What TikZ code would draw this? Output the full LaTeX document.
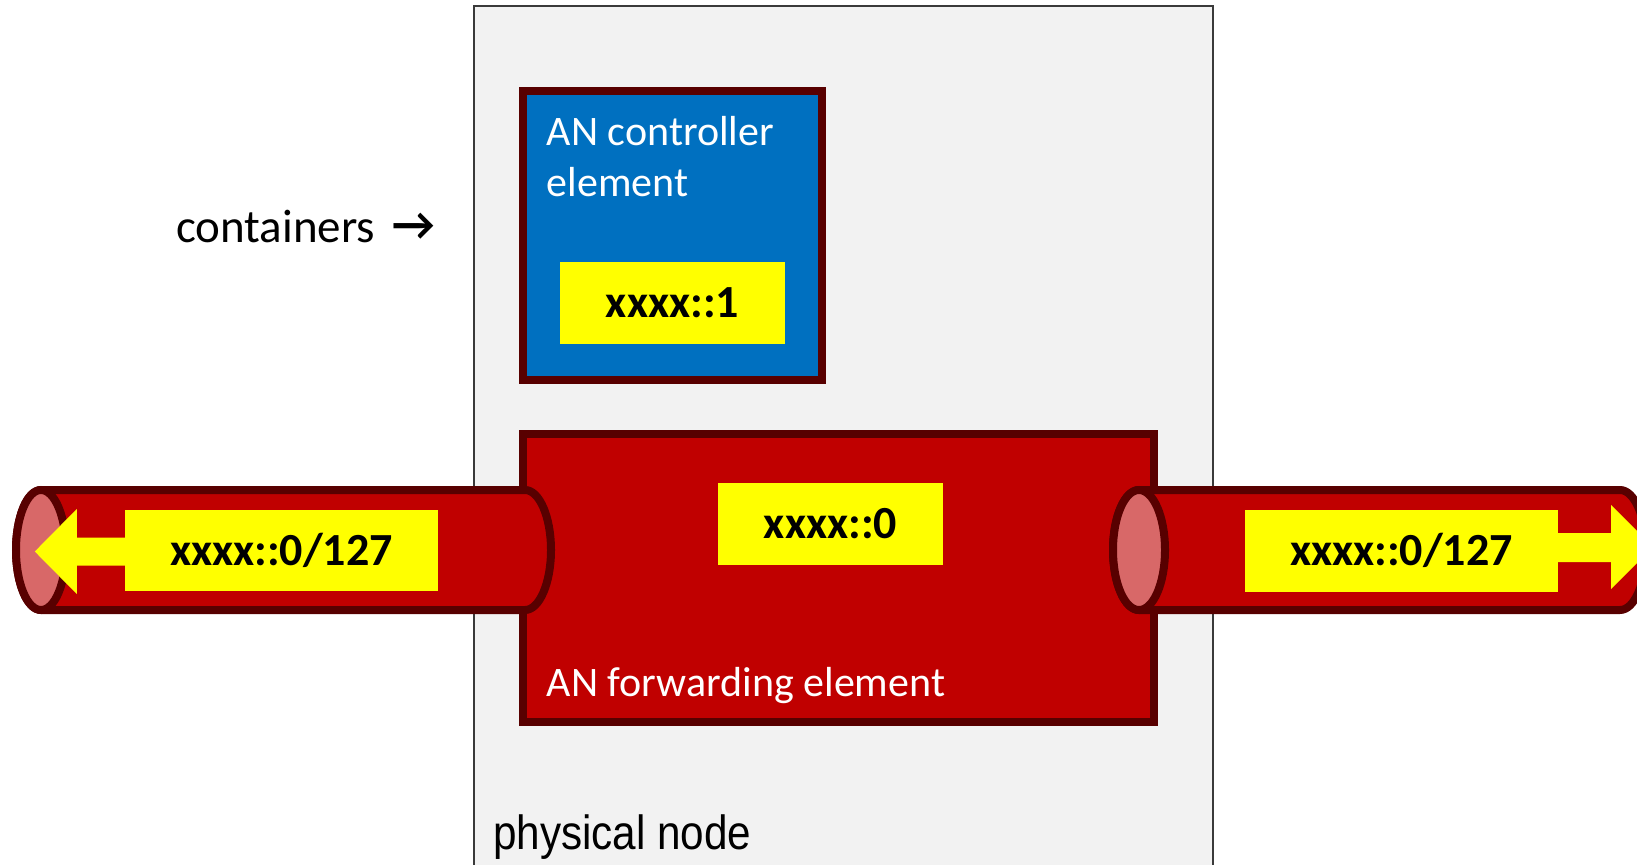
\documentclass[tikz,border=0pt]{standalone}
\usepackage{fontspec}
\usepackage{graphicx}
\setmainfont{Carlito}
\newfontfamily\arialf{Liberation Sans}

\definecolor{edgered}{HTML}{580000}
\definecolor{fwdred}{HTML}{C00000}
\definecolor{ctrlblue}{HTML}{0070C0}
\definecolor{facepink}{HTML}{D86868}
\definecolor{addryellow}{HTML}{FFFF00}
\definecolor{nodegray}{HTML}{F2F2F2}
\definecolor{nodeedge}{HTML}{3A3A3A}

\tikzset{
  elembox/.style={rectangle, draw=edgered, line width=8pt, inner sep=0pt},
  addrbox/.style={rectangle, fill=addryellow, inner sep=0pt,
    font=\bfseries\fontsize{46}{50}\selectfont, text height=29pt, text depth=0pt},
  whitelabel/.style={text=white, inner sep=0pt, anchor=base west,
    font=\fontsize{42}{51}\selectfont},
  pipebody/.style={fill=fwdred, draw=edgered, line width=8pt, line join=round},
  pipeface/.style={fill=facepink, draw=edgered, line width=8pt},
}

\begin{document}
\begin{tikzpicture}[x=1pt, y=-1pt]
  \useasboundingbox (0,0) rectangle (1637,864);
  \clip (0,0) rectangle (1637,864);

  % physical node (runs past the lower edge)
  \node[rectangle, fill=nodegray, draw=nodeedge, line width=2pt, inner sep=0pt,
        minimum width=739pt, minimum height=894pt] (phys) at (843.5,453) {};

  % containers
  \node[elembox, fill=ctrlblue, minimum width=299pt, minimum height=289pt]
    (ctrl) at (672.5,235.5) {};
  \node[elembox, fill=fwdred, minimum width=631pt, minimum height=288pt]
    (fwd) at (838.5,578) {};

  % pipe ends
  \coordinate (lpL) at (41,550);
  \coordinate (lpR) at (525,550);
  \coordinate (rpL) at (1139,550);
  \coordinate (rpR) at (1620,550);

  % left pipe
  \draw[pipebody] (41,490) -- (525,490)
    arc[start angle=-90, end angle=90, x radius=26, y radius=60]
    -- (41,610)
    arc[start angle=90, end angle=270, x radius=25, y radius=60] -- cycle;
  \draw[pipeface] (lpL) ellipse [x radius=25, y radius=60];

  % right pipe
  \draw[pipebody] (1139,490) -- (1620,490)
    arc[start angle=-90, end angle=90, x radius=26, y radius=60]
    -- (1139,610)
    arc[start angle=90, end angle=270, x radius=26, y radius=60] -- cycle;
  \draw[pipeface] (rpL) ellipse [x radius=26, y radius=60];

  % addresses
  \node[addrbox, minimum width=225pt, minimum height=82pt] (addr1) at (672.5,303) {xxxx::1};
  \node[addrbox, minimum width=225pt, minimum height=82pt] (addr0) at (830.5,524) {xxxx::0};
  \node[addrbox, minimum width=313pt, minimum height=81pt] (laddr) at (281.5,550.5) {xxxx::0/127};
  \node[addrbox, minimum width=313pt, minimum height=82pt] (raddr) at (1401.5,551) {xxxx::0/127};

  % direction arrows inside the pipes
  \fill[addryellow] (laddr.west) ++(0,-13) -- ++(-48,0) -- ++(0,-28.5)
    -- ++(-42,42.5) -- ++(42,42.5) -- ++(0,-28.5) -- ++(48,0) -- cycle;
  \fill[addryellow] (raddr.east) ++(0,-18) -- ++(53,0) -- ++(0,-28)
    -- ++(42,42) -- ++(-42,42) -- ++(0,-27) -- ++(-53,0) -- cycle;

  % labels
  \node[whitelabel, align=left] (ctrltxt) at (546.7,196.7) {AN controller\\element};
  \node[whitelabel] (fwdtxt) at (546.7,696.7) {AN forwarding element};
  \node[inner sep=0pt, anchor=base west, font=\fontsize{47}{50}\selectfont]
    (cont) at (176,242) {containers\hspace{17pt}\raisebox{2pt}{\textbf{→}}};
  \node[inner sep=0pt, anchor=base west, font=\arialf\fontsize{48}{52}\selectfont]
    (physlbl) at (493,849) {\scalebox{0.88}[1]{physical node}};
\end{tikzpicture}
\end{document}
